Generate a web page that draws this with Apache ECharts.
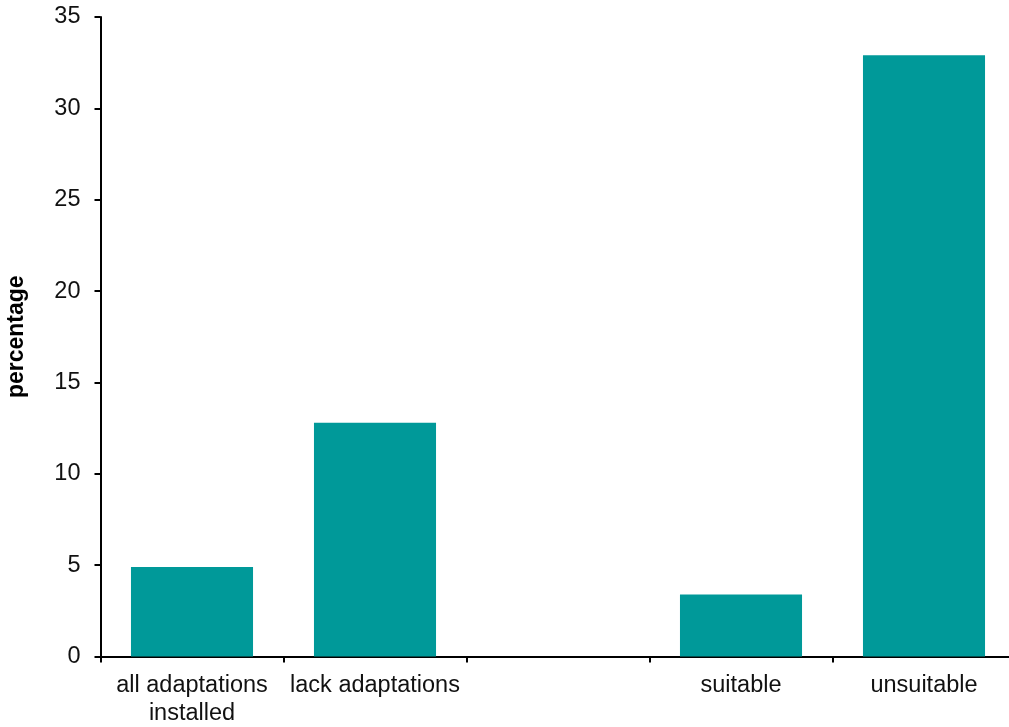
<!DOCTYPE html>
<html>
<head>
<meta charset="utf-8">
<script src="https://cdn.jsdelivr.net/npm/echarts@6/dist/echarts.min.js"></script>
<style>html,body{margin:0;padding:0;background:#fff;}#c{width:1009px;height:727px;}</style>
</head>
<body>
<div id="c"></div>
<script>
const categories = ['all adaptations\ninstalled', 'lack adaptations', '', 'suitable', 'unsuitable'];
const values = [4.9, 12.8, null, 3.4, 32.9];
const yTicks = { min: 0, max: 35, interval: 5 };
const yName = 'percentage';

const chart = echarts.init(document.getElementById('c'), null, { renderer: 'canvas' });
const font = 'Liberation Sans, Arial, sans-serif';
chart.setOption({
  animation: false,
  grid: { left: 100.5, top: 17, width: 915, height: 639.5, containLabel: false, outerBoundsMode: 'none' },
  xAxis: {
    type: 'category',
    data: categories,
    axisLine: { lineStyle: { color: '#000', width: 2 } },
    axisTick: { show: true, length: 6, lineStyle: { color: '#000', width: 2 }, alignWithLabel: false },
    axisLabel: { color: '#111', fontFamily: font, fontSize: 23.5, margin: 15, lineHeight: 28, interval: 0 },
    splitLine: { show: false }
  },
  yAxis: {
    type: 'value',
    min: yTicks.min, max: yTicks.max, interval: yTicks.interval,
    name: yName,
    nameLocation: 'middle',
    nameGap: 72,
    nameTextStyle: { color: '#000', fontFamily: font, fontSize: 23, fontWeight: 'bold' },
    axisLine: { show: true, lineStyle: { color: '#000', width: 2 } },
    axisTick: { show: true, length: 6, lineStyle: { color: '#000', width: 2 } },
    axisLabel: { color: '#111', fontFamily: font, fontSize: 23.5, margin: 20 },
    splitLine: { show: false }
  },
  series: [{
    type: 'bar',
    data: values,
    barWidth: '66.7%',
    itemStyle: { color: '#009999' }
  }]
});
</script>
</body>
</html>
